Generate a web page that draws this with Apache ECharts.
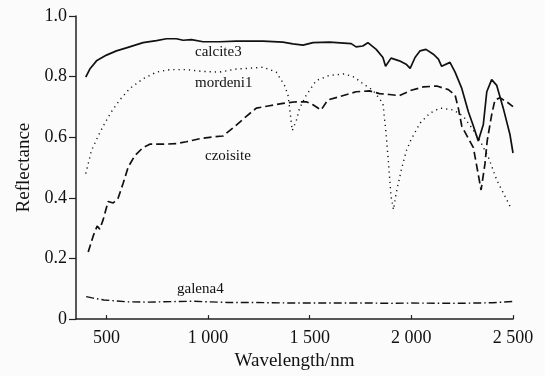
<!DOCTYPE html>
<html>
<head>
<meta charset="utf-8">
<script src="https://cdn.jsdelivr.net/npm/echarts@6/dist/echarts.min.js"></script>
<style>
html,body{margin:0;padding:0;background:#fbfbfb;}
#chart{width:545px;height:376px;}
</style>
</head>
<body>
<div id="chart"></div>
<script>
// ---- data: [wavelength (nm), reflectance] ----
const calcite3 = [
 [398,0.798],[418,0.825],[451,0.852],[500,0.871],[549,0.885],[598,0.895],[680,0.912],
 [746,0.919],[795,0.925],[844,0.925],[877,0.920],[918,0.922],[975,0.915],[1057,0.915],
 [1139,0.917],[1270,0.917],[1368,0.914],[1417,0.908],[1467,0.904],[1516,0.912],[1597,0.914],
 [1704,0.909],[1728,0.898],[1761,0.901],[1786,0.912],[1827,0.890],[1860,0.863],[1873,0.834],
 [1900,0.861],[1941,0.852],[1974,0.841],[1994,0.827],[2018,0.863],[2043,0.885],[2072,0.890],
 [2108,0.874],[2133,0.858],[2149,0.834],[2190,0.847],[2215,0.815],[2248,0.761],[2280,0.685],
 [2305,0.637],[2329,0.588],[2338,0.583],[2354,0.642],[2371,0.750],[2395,0.790],[2420,0.771],
 [2452,0.696],[2485,0.609],[2500,0.548]
];
const mordeni1 = [
 [398,0.480],[426,0.556],[459,0.604],[492,0.647],[525,0.685],[565,0.723],[615,0.761],
 [680,0.793],[746,0.815],[811,0.823],[893,0.823],[975,0.817],[1057,0.815],[1139,0.825],
 [1188,0.827],[1270,0.831],[1335,0.815],[1376,0.771],[1393,0.739],[1401,0.696],[1414,0.622],
 [1434,0.655],[1450,0.696],[1483,0.739],[1532,0.787],[1597,0.804],[1671,0.809],[1720,0.798],
 [1761,0.777],[1811,0.755],[1860,0.712],[1876,0.609],[1889,0.502],[1900,0.405],[1912,0.361],
 [1925,0.415],[1950,0.491],[1975,0.555],[1999,0.593],[2043,0.647],[2092,0.680],[2141,0.696],
 [2207,0.690],[2256,0.669],[2297,0.631],[2338,0.588],[2379,0.534],[2420,0.459],[2469,0.394],
 [2494,0.361]
];
const czoisite = [
 [410,0.221],[435,0.275],[454,0.307],[467,0.297],[484,0.329],[508,0.388],[533,0.383],
 [557,0.399],[582,0.448],[607,0.502],[639,0.539],[680,0.566],[713,0.577],[779,0.577],
 [844,0.579],[893,0.585],[958,0.595],[1024,0.601],[1073,0.604],[1123,0.631],[1188,0.669],
 [1237,0.696],[1302,0.704],[1368,0.712],[1434,0.717],[1483,0.717],[1516,0.707],[1556,0.690],
 [1589,0.723],[1646,0.734],[1728,0.750],[1794,0.753],[1843,0.744],[1892,0.741],[1941,0.737],
 [1999,0.755],[2059,0.766],[2125,0.769],[2182,0.757],[2215,0.739],[2231,0.696],[2248,0.637],
 [2265,0.615],[2305,0.566],[2343,0.426],[2362,0.512],[2373,0.588],[2395,0.674],[2411,0.723],
 [2436,0.730],[2469,0.717],[2500,0.701]
];
const galena4 = [
 [400,0.074],[430,0.070],[487,0.063],[550,0.060],[602,0.057],[700,0.056],[765,0.057],
 [850,0.058],[929,0.059],[1000,0.057],[1093,0.055],[1200,0.055],[1300,0.054],[1420,0.053],
 [1600,0.053],[1800,0.053],[1900,0.052],[2000,0.053],[2223,0.052],[2400,0.054],[2500,0.058]
];
const xTicks = [500, 1000, 1500, 2000, 2500];
const yTicks = [0, 0.2, 0.4, 0.6, 0.8, 1.0];
const seriesNames = ['calcite3', 'mordeni1', 'czoisite', 'galena4'];

const serif = '"Liberation Serif", "Times New Roman", serif';
const ink = '#111';
const chart = echarts.init(document.getElementById('chart'), null, {renderer: 'canvas'});

function fmtX(v){ const s = String(Math.round(v)); return s.length > 3 ? s.slice(0, s.length-3) + ' ' + s.slice(-3) : s; }

function line(name, data, width, type){
  return {
    name: name, type: 'line', data: data, showSymbol: false, symbol: 'none',
    lineStyle: {color: ink, width: width, type: type},
    silent: true, animation: false
  };
}

chart.setOption({
  backgroundColor: '#fbfbfb',
  animation: false,
  grid: {left: 76, right: 32, top: 16, bottom: 51},
  xAxis: {
    type: 'value', min: 350, max: 2500,
    name: 'Wavelength/nm', nameLocation: 'middle', nameGap: 28,
    nameTextStyle: {fontFamily: serif, fontSize: 19, color: ink},
    axisLine: {onZero: false, lineStyle: {color: '#222', width: 1.5}},
    axisTick: {show: true, length: 4, inside: true, customValues: xTicks, lineStyle: {color: '#222', width: 1.2}},
    axisLabel: {customValues: xTicks, formatter: fmtX, fontFamily: serif, fontSize: 18, color: ink, margin: 10},
    splitLine: {show: false}
  },
  yAxis: {
    type: 'value', min: 0, max: 1, interval: 0.2,
    name: 'Reflectance', nameLocation: 'middle', nameGap: 42, nameRotate: 90,
    nameTextStyle: {fontFamily: serif, fontSize: 19, color: ink},
    axisLine: {show: true, lineStyle: {color: '#222', width: 1.5}},
    axisTick: {show: true, length: 7, lineStyle: {color: '#222', width: 1.2}},
    axisLabel: {formatter: v => v === 0 ? '0' : v.toFixed(1), fontFamily: serif, fontSize: 18, color: ink, margin: 9},
    splitLine: {show: false}
  },
  series: [
    line(seriesNames[0], calcite3, 1.7, 'solid'),
    line(seriesNames[1], mordeni1, 1.4, [1.2, 4]),
    line(seriesNames[2], czoisite, 1.7, [8, 4]),
    line(seriesNames[3], galena4, 1.4, [8, 3, 1.5, 3])
  ],
  graphic: [
    {type: 'text', left: 195, top: 45, style: {text: seriesNames[0], font: '15px ' + serif, fill: ink}},
    {type: 'text', left: 195, top: 76, style: {text: seriesNames[1], font: '15px ' + serif, fill: ink}},
    {type: 'text', left: 205, top: 149, style: {text: seriesNames[2], font: '15px ' + serif, fill: ink}},
    {type: 'text', left: 177, top: 282, style: {text: seriesNames[3], font: '15px ' + serif, fill: ink}}
  ]
});
</script>
</body>
</html>
